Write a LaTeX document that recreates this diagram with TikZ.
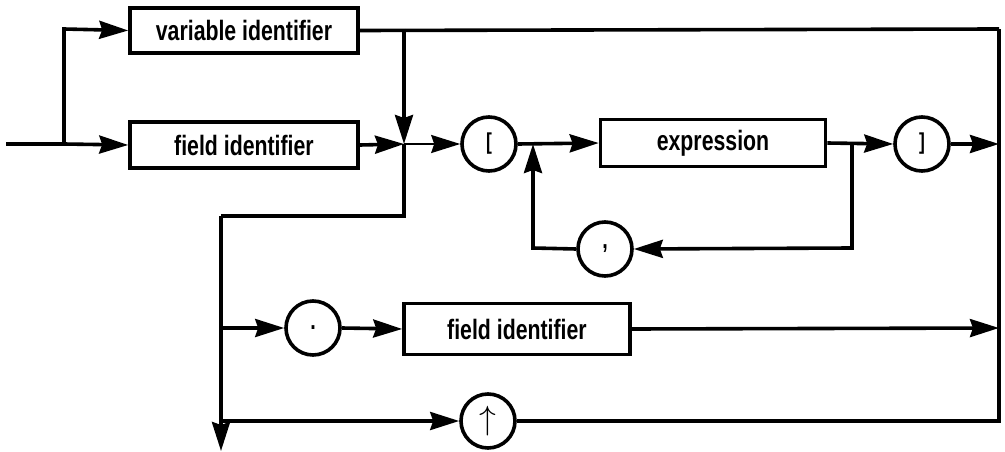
\documentclass[tikz,border=0pt]{standalone}
\usepackage{fontspec}
\setmainfont{Liberation Sans}
\newfontfamily\condfont[FakeStretch=0.76]{Liberation Sans}
\usetikzlibrary{arrows.meta}
\begin{document}
\begin{tikzpicture}[x=1pt,y=-1pt,
  line width=3.6pt, line join=miter,
  tip/.style={-{Stealth[length=29pt,width=18pt,inset=3pt]}},
  box/.style={draw, rectangle, inner sep=0pt,
              font=\fontsize{28}{28}\selectfont\condfont\bfseries},
  term/.style={draw, circle, minimum size=54pt, inner sep=0pt,
               font=\fontsize{23}{23}\selectfont\condfont\bfseries}]
\useasboundingbox (0,0) rectangle (1005,452);

% boxes and terminal symbols
\node[box, minimum width=228pt, minimum height=45pt] (vid)  at (244,30.5) {variable identifier};
\node[box, minimum width=228pt, minimum height=46pt] (fid1) at (244,145)  {field identifier};
\node[term] (lb) at (489,144) {[};
\node[box, minimum width=225pt, minimum height=47pt] (expr) at (713,143) {expression};
\node[term] (rb) at (922,144) {]};
\node[term, font=\fontsize{26}{26}\selectfont\condfont\bfseries] (comma) at (605,249) {,};
\node[term, font=\fontsize{26}{26}\selectfont\condfont\bfseries] (dot) at (313,328) {.};
\node[box, minimum width=226pt, minimum height=51pt] (fid2) at (517,329) {field identifier};
\node[term, font=\fontsize{24}{24}\selectfont] (up) at (488,421) {\scalebox{1.35}{$\uparrow$}};

% routing points
\coordinate (start)    at (6,144);
\coordinate (split)    at (64,144);
\coordinate (splitup)  at (64,29);
\coordinate (jtop)     at (404,29);
\coordinate (jmid)     at (404,144);
\coordinate (jlow)     at (404,216);
\coordinate (lft)      at (221,216);
\coordinate (ldot)     at (221,328);
\coordinate (lup)      at (221,421);
\coordinate (exit)     at (221,451);
\coordinate (rtop)     at (999,29);
\coordinate (rmid)     at (999,144);
\coordinate (rdot)     at (999,328);
\coordinate (rbot)     at (999,421);
\coordinate (loopin)   at (533,144);
\coordinate (loopinb)  at (533,248);
\coordinate (loopout)  at (852,144);
\coordinate (loopoutb) at (852,248);

% entry and the two alternatives
\draw (start) -- (split);
\draw[tip] (split) -- (fid1.west);
\draw[tip] (split) -- (splitup) -- (vid.west);
\draw (vid.east) -- (rtop);
\draw[tip] (fid1.east) -- (jmid);
\draw[tip] (jtop) -- (jmid);
\draw (jmid) -- (jlow) -- (lft);
\draw[tip] (lft) -- (exit);

% index selector
\draw[tip, line width=2pt] (jmid) -- (lb.west);
\draw[tip] (lb.east) -- (expr.west);
\draw[tip] (expr.east) -- (rb.west);
\draw[tip] (rb.east) -- (rmid);
\draw[tip] (loopout) -- (loopoutb) -- (comma.east);
\draw[tip] (comma.west) -- (loopinb) -- (loopin);

% field selector
\draw[tip] (ldot) -- (dot.west);
\draw[tip] (dot.east) -- (fid2.west);
\draw[tip] (fid2.east) -- (rdot);

% pointer selector and the return path
\draw[tip] (lup) -- (up.west);
\draw (up.east) -- (rbot) -- (rtop);
\end{tikzpicture}
\end{document}
